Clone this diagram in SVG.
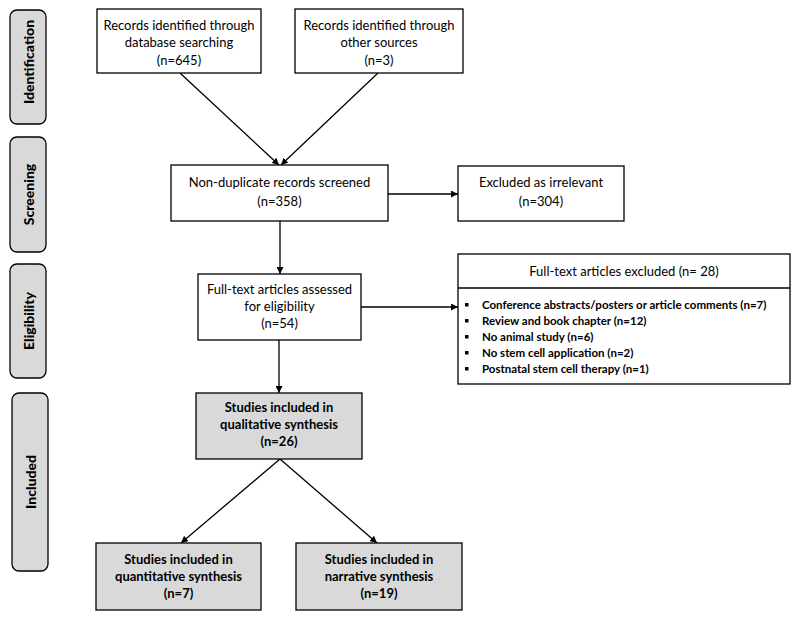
<svg xmlns="http://www.w3.org/2000/svg" width="800" height="620" viewBox="0 0 800 620">
<defs>
<marker id="ah" viewBox="0 0 10 10" refX="10" refY="5" markerWidth="7" markerHeight="7" markerUnits="userSpaceOnUse" orient="auto">
<path d="M0,0 L10,5 L0,10 z" fill="#000"/>
</marker>
<style>
.phase{fill:#d9d9d9;stroke:#000;stroke-width:1.3}
.ptxt{font-family:Lato,"Liberation Sans",sans-serif;font-weight:900;font-size:14px;fill:#000;text-anchor:middle;dominant-baseline:central}
.box{fill:#fff;stroke:#000;stroke-width:1.3}
.gbox{fill:#d9d9d9;stroke:#000;stroke-width:1.3}
.t{font-family:Lato,"Liberation Sans",sans-serif;font-size:13px;fill:#000;text-anchor:middle}
.tb{font-family:Lato,"Liberation Sans",sans-serif;font-size:13px;font-weight:bold;fill:#000;text-anchor:middle}
.li{font-family:Lato,"Liberation Sans",sans-serif;font-size:11.5px;font-weight:bold;fill:#000}
.c{stroke:#000;stroke-width:1.3;fill:none;marker-end:url(#ah)}
</style>
</defs>
<rect width="800" height="620" fill="#fff"/>

<g id="phase-identification">
<rect class="phase" x="10" y="10" width="36" height="114" rx="7"/>
<text class="ptxt" transform="translate(28,62) rotate(-90)">Identification</text>
</g>
<g id="phase-screening">
<rect class="phase" x="10" y="137" width="36" height="115" rx="7"/>
<text class="ptxt" transform="translate(28,194.5) rotate(-90)">Screening</text>
</g>
<g id="phase-eligibility">
<rect class="phase" x="10" y="264" width="36" height="114" rx="7"/>
<text class="ptxt" transform="translate(28,321) rotate(-90)">Eligibility</text>
</g>
<g id="phase-included">
<rect class="phase" x="12" y="393" width="36" height="178" rx="7"/>
<text class="ptxt" transform="translate(30,482) rotate(-90)">Included</text>
</g>

<g id="connectors">
<line class="c" x1="180" y1="73" x2="279" y2="165"/>
<line class="c" x1="378" y1="73" x2="281" y2="165"/>
<line class="c" x1="388" y1="194" x2="458" y2="194"/>
<line class="c" x1="280" y1="221" x2="280" y2="274"/>
<line class="c" x1="361" y1="307" x2="458" y2="307"/>
<line class="c" x1="279" y1="340" x2="279" y2="393"/>
<line class="c" x1="280" y1="459" x2="181" y2="543"/>
<line class="c" x1="280" y1="459" x2="377" y2="543"/>
</g>

<g id="records-db">
<rect class="box" x="97" y="9" width="164" height="64"/>
<text class="t" x="179" y="30">Records identified through</text>
<text class="t" x="179" y="47">database searching</text>
<text class="t" x="179" y="65">(n=645)</text>
</g>
<g id="records-other">
<rect class="box" x="295" y="9" width="168" height="64"/>
<text class="t" x="379" y="30">Records identified through</text>
<text class="t" x="379" y="47">other sources</text>
<text class="t" x="379" y="65">(n=3)</text>
</g>
<g id="nondup">
<rect class="box" x="171" y="165" width="217" height="56"/>
<text class="t" x="279.5" y="187">Non-duplicate records screened</text>
<text class="t" x="279.5" y="206">(n=358)</text>
</g>
<g id="excluded-irrelevant">
<rect class="box" x="458" y="166" width="166" height="55"/>
<text class="t" x="541" y="187">Excluded as irrelevant</text>
<text class="t" x="541" y="206">(n=304)</text>
</g>
<g id="fulltext-assessed">
<rect class="box" x="198" y="274" width="163" height="66"/>
<text class="t" x="279.5" y="294">Full-text articles assessed</text>
<text class="t" x="279.5" y="311">for eligibility</text>
<text class="t" x="279.5" y="328">(n=54)</text>
</g>
<g id="fulltext-excluded">
<rect class="box" x="458" y="254" width="332" height="130"/>
<line x1="458" y1="288" x2="790" y2="288" stroke="#000" stroke-width="1.3"/>
<text class="t" x="624" y="276">Full-text articles excluded (n= 28)</text>
<g class="li">
<rect x="465" y="303" width="3.5" height="3.5"/>
<rect x="465" y="319" width="3.5" height="3.5"/>
<rect x="465" y="335" width="3.5" height="3.5"/>
<rect x="465" y="351" width="3.5" height="3.5"/>
<rect x="465" y="367" width="3.5" height="3.5"/>
<text x="482" y="309">Conference abstracts/posters or article comments (n=7)</text>
<text x="482" y="325">Review and book chapter (n=12)</text>
<text x="482" y="341">No animal study (n=6)</text>
<text x="482" y="357">No stem cell application (n=2)</text>
<text x="482" y="373">Postnatal stem cell therapy (n=1)</text>
</g>
</g>
<g id="qualitative">
<rect class="gbox" x="196" y="393" width="166" height="66"/>
<text class="tb" x="279" y="412">Studies included in</text>
<text class="tb" x="279" y="429">qualitative synthesis</text>
<text class="tb" x="279" y="446">(n=26)</text>
</g>
<g id="quantitative">
<rect class="gbox" x="96" y="543" width="165" height="67"/>
<text class="tb" x="178.5" y="564">Studies included in</text>
<text class="tb" x="178.5" y="581">quantitative synthesis</text>
<text class="tb" x="178.5" y="598">(n=7)</text>
</g>
<g id="narrative">
<rect class="gbox" x="296" y="543" width="166" height="67"/>
<text class="tb" x="379" y="564">Studies included in</text>
<text class="tb" x="379" y="581">narrative synthesis</text>
<text class="tb" x="379" y="598">(n=19)</text>
</g>
</svg>
